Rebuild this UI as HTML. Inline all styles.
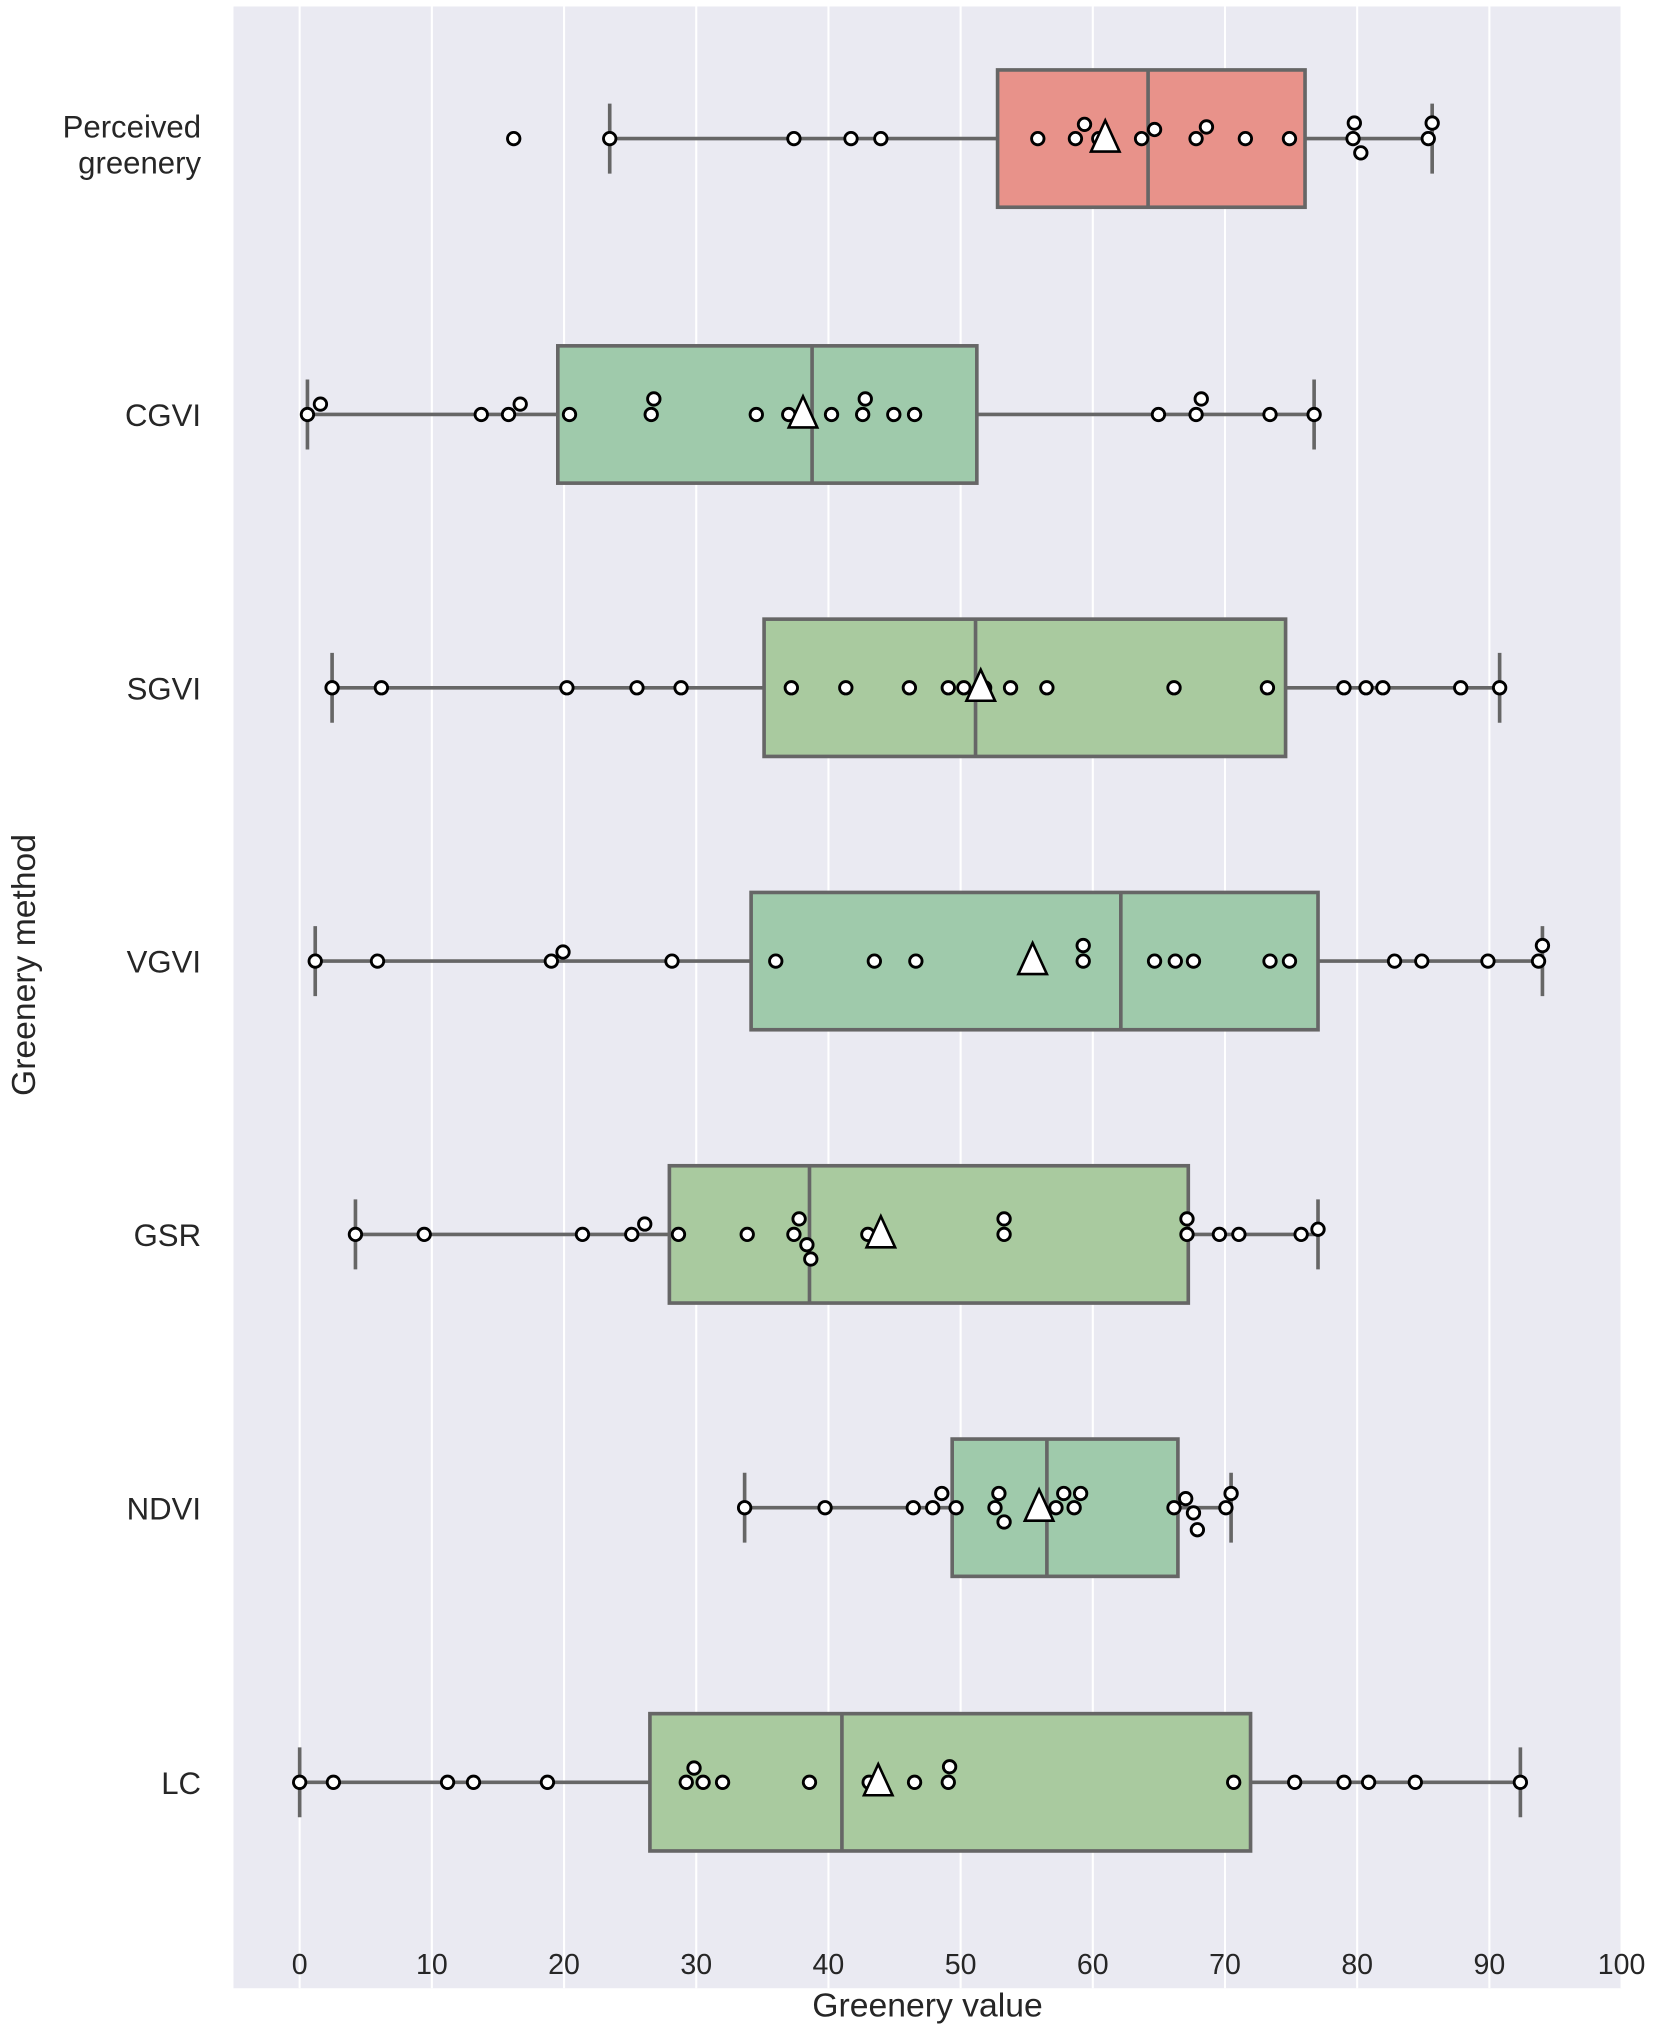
<!DOCTYPE html>
<html><head><meta charset="utf-8"><style>html,body{margin:0;padding:0;background:#fff}svg{display:block}</style></head>
<body>
<svg id="s" width="1654" height="2031" viewBox="0 0 1275 1568" preserveAspectRatio="none" xmlns="http://www.w3.org/2000/svg" font-family="Liberation Sans, Arial, sans-serif">
<rect x="180" y="5" width="1070" height="1530" fill="#eaeaf2"/>
<g id="g"></g>
</svg>
<script>
const g=document.getElementById('g');let h='';
for(let i=0;i<=10;i++){const x=231+i*101.9;h+=`<line x1="${x}" y1="5" x2="${x}" y2="1535" stroke="#fff" stroke-width="1.6"/>`;h+=`<text x="${x}" y="1524" font-size="22" text-anchor="middle" fill="#262626">${i*10}</text>`;}
const rows=[
{n:"Perceived greenery",y:107,c:"#e8928a",b:[769,1006],m:885,w:[470,1104],mean:852,p:[[396],[470],[612],[656],[679],[800],[829],[836,-11],[847],[880],[890,-7],[922],[930,-9],[960],[994],[1043],[1044,-12],[1049,11],[1101],[1104,-12]]},
{n:"CGVI",y:320,c:"#9fcaab",b:[430,753],m:626,w:[237,1013],mean:619,p:[[237],[247,-8],[371],[392],[401,-8],[439],[502],[504,-12],[583],[608],[641],[665],[667,-12],[689],[705],[893],[922],[926,-12],[979],[1013]]},
{n:"SGVI",y:531,c:"#a9ca9f",b:[589,991],m:752,w:[256,1156],mean:756,p:[[256],[294],[437],[491],[525],[610],[652],[701],[731],[743],[759],[779],[807],[905],[977],[1036],[1053],[1066],[1126],[1156]]},
{n:"VGVI",y:742,c:"#9fcaab",b:[579,1016],m:864,w:[243,1189],mean:796,p:[[243],[291],[425],[434,-7],[518],[598],[674],[706],[835,-12],[835],[890],[906],[920],[979],[994],[1075],[1096],[1147],[1186],[1189,-12]]},
{n:"GSR",y:953,c:"#a9ca9f",b:[516,916],m:624,w:[274,1016],mean:679,p:[[274],[327],[449],[487],[497,-8],[523],[576],[612],[616,-12],[622,8],[625,19],[669],[774,-12],[774],[915,-12],[915],[940],[955],[1003],[1016,-4]]},
{n:"NDVI",y:1164,c:"#9fcaab",b:[734,908],m:807,w:[574,949],mean:801,p:[[574],[636],[704],[719],[726,-11],[737],[767],[770,-11],[774,11],[814],[820,-11],[828],[833,-11],[905],[914,-7],[920,4],[923,17],[945],[949,-11]]},
{n:"LC",y:1376,c:"#a9ca9f",b:[501,964],m:649,w:[231,1172],mean:677,p:[[231],[257],[345],[365],[422],[529],[535,-11],[542],[557],[624],[670],[705],[731],[732,-12],[951],[998],[1036],[1055],[1091],[1172]]}];
const L="#666";
for(const r of rows){const y=r.y;
h+=`<line x1="${r.w[0]}" y1="${y}" x2="${r.b[0]}" y2="${y}" stroke="${L}" stroke-width="2.8"/><line x1="${r.b[1]}" y1="${y}" x2="${r.w[1]}" y2="${y}" stroke="${L}" stroke-width="2.8"/>`;
h+=`<line x1="${r.w[0]}" y1="${y-27}" x2="${r.w[0]}" y2="${y+27}" stroke="${L}" stroke-width="2.8"/><line x1="${r.w[1]}" y1="${y-27}" x2="${r.w[1]}" y2="${y+27}" stroke="${L}" stroke-width="2.8"/>`;
h+=`<rect x="${r.b[0]}" y="${y-53}" width="${r.b[1]-r.b[0]}" height="106" fill="${r.c}" stroke="${L}" stroke-width="2.8"/>`;
h+=`<line x1="${r.m}" y1="${y-53}" x2="${r.m}" y2="${y+53}" stroke="${L}" stroke-width="2.8"/>`;
for(const p of r.p){h+=`<circle cx="${p[0]}" cy="${y+(p[1]||0)}" r="4.8" fill="#fff" stroke="#000" stroke-width="2.2"/>`;}
const mx=r.mean;h+=`<polygon points="${mx},${y-14} ${mx-11},${y+10} ${mx+11},${y+10}" fill="#fff" stroke="#000" stroke-width="2"/>`;
if(r.n==="Perceived greenery"){h+=`<text x="155" y="${y-1}" font-size="24" text-anchor="end" fill="#262626">Perceived</text><text x="155" y="${y+27}" font-size="24" text-anchor="end" fill="#262626">greenery</text>`;}
else h+=`<text x="155" y="${y+9}" font-size="24" text-anchor="end" fill="#262626">${r.n}</text>`;
}
h+=`<text x="715" y="1557" font-size="26" text-anchor="middle" fill="#262626">Greenery value</text>`;
h+=`<text transform="translate(27,745) rotate(-90)" font-size="26" text-anchor="middle" fill="#262626">Greenery method</text>`;
g.innerHTML=h;
</script>
</body></html>
